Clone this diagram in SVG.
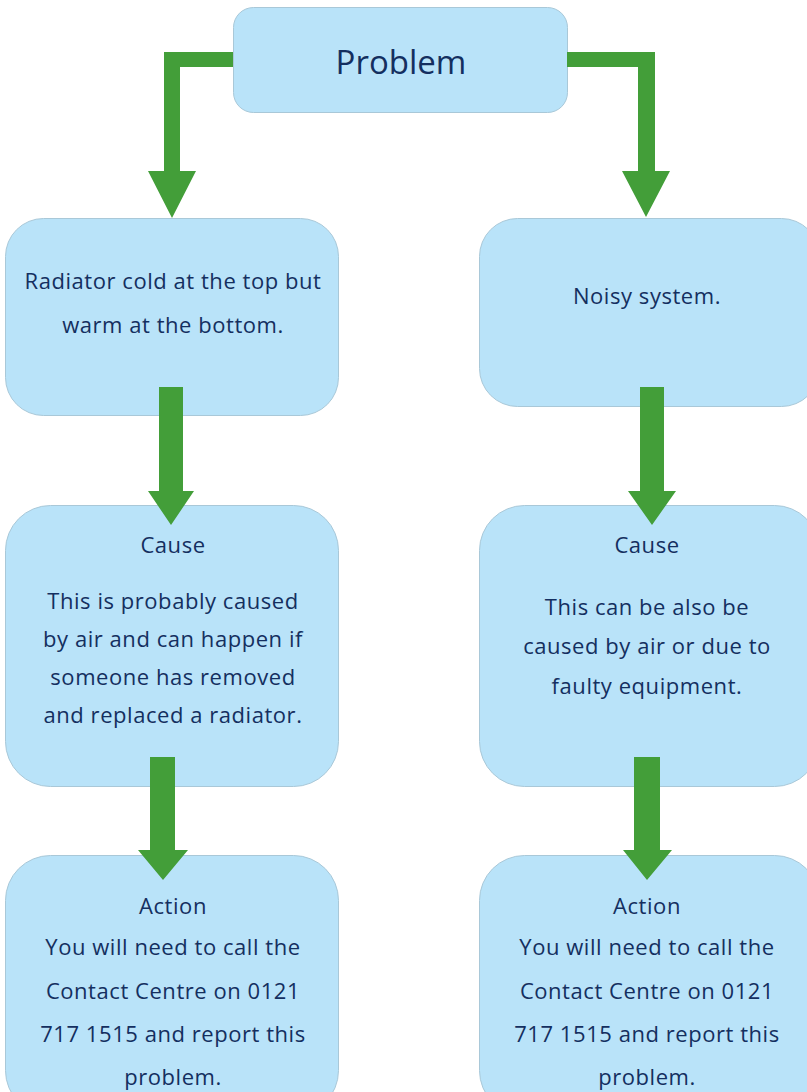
<svg xmlns="http://www.w3.org/2000/svg" width="807" height="1092" viewBox="0 0 807 1092">
<style>
.box{fill:#b9e3f9;stroke:#a9c8d8;stroke-width:1}
.t{font-family:"Open Sans","Liberation Sans",sans-serif;font-size:22px;letter-spacing:0.55px;fill:#142f60;text-anchor:middle}
.tl{font-size:33px;letter-spacing:0}
.arr{fill:#439e39}
</style>
<rect width="807" height="1092" fill="#ffffff"/>
<g id="problem">
<rect class="box" x="233.5" y="7.5" width="334" height="105" rx="20"/>
<text class="t tl" x="401" y="74">Problem</text>
</g>
<g id="symptom-left">
<rect class="box" x="5.5" y="218.5" width="333" height="197" rx="38"/>
<text class="t" x="173" y="289">Radiator cold at the top but</text>
<text class="t" x="173" y="333">warm at the bottom.</text>
</g>
<g id="symptom-right">
<rect class="box" x="479.5" y="218.5" width="340" height="188" rx="38"/>
<text class="t" x="647" y="304">Noisy system.</text>
</g>
<g id="cause-left">
<rect class="box" x="5.5" y="505.5" width="333" height="281" rx="45"/>
<text class="t" x="173" y="553">Cause</text>
<text class="t" x="173" y="609">This is probably caused</text>
<text class="t" x="173" y="647">by air and can happen if</text>
<text class="t" x="173" y="685">someone has removed</text>
<text class="t" x="173" y="723">and replaced a radiator.</text>
</g>
<g id="cause-right">
<rect class="box" x="479.5" y="505.5" width="340" height="281" rx="45"/>
<text class="t" x="647" y="553">Cause</text>
<text class="t" x="647" y="615">This can be also be</text>
<text class="t" x="647" y="654">caused by air or due to</text>
<text class="t" x="647" y="694">faulty equipment.</text>
</g>
<g id="action-left">
<rect class="box" x="5.5" y="855.5" width="333" height="260" rx="45"/>
<text class="t" x="173" y="914">Action</text>
<text class="t" x="173" y="955">You will need to call the</text>
<text class="t" x="173" y="999">Contact Centre on 0121</text>
<text class="t" x="173" y="1042">717 1515 and report this</text>
<text class="t" x="173" y="1085">problem.</text>
</g>
<g id="action-right">
<rect class="box" x="479.5" y="855.5" width="340" height="260" rx="45"/>
<text class="t" x="647" y="914">Action</text>
<text class="t" x="647" y="955">You will need to call the</text>
<text class="t" x="647" y="999">Contact Centre on 0121</text>
<text class="t" x="647" y="1042">717 1515 and report this</text>
<text class="t" x="647" y="1085">problem.</text>
</g>
<g id="connectors">
<path class="arr" d="M233,52 H164 V171 H148 L172,218 L196,171 H180 V67 H233 Z"/>
<path class="arr" d="M567,52 H655 V171 H670 L646,217 L622,171 H638 V67 H567 Z"/>
<path class="arr" d="M159,387 H183 V491 H194 L171,525 L148,491 H159 Z"/>
<path class="arr" d="M640,387 H664 V491 H676 L652,525 L628,491 H640 Z"/>
<path class="arr" d="M150,757 H175 V850 H188 L163,880 L138,850 H150 Z"/>
<path class="arr" d="M634,757 H660 V850 H672 L647,880 L623,850 H634 Z"/>
</g>
</svg>
